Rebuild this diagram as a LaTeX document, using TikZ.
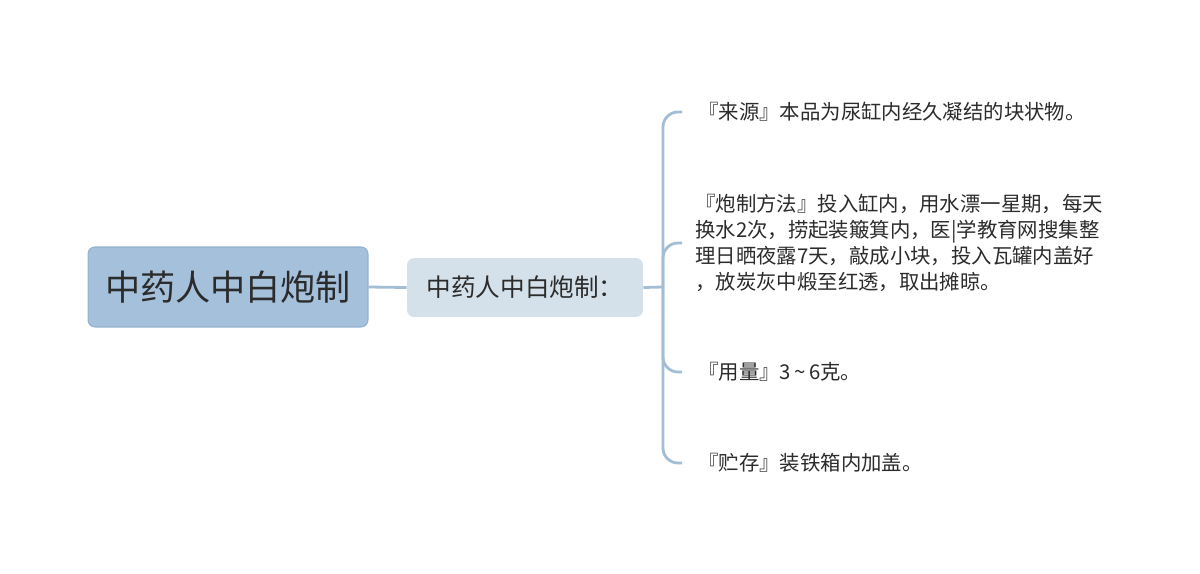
\documentclass[tikz,border=0pt]{standalone}
\usepackage{fontspec}
\setmainfont{Noto Sans CJK SC}
\usepackage{tikz}
\usetikzlibrary{positioning}
\definecolor{rootfill}{HTML}{A4C0DB}
\definecolor{rootdraw}{HTML}{93B2D0}
\definecolor{subfill}{HTML}{D5E1EA}
\definecolor{linkcol}{HTML}{A3BDD4}
\definecolor{txt}{HTML}{2B2B2B}
\tikzstyle{rootbox}=[rectangle, fill=rootfill, draw=rootdraw, line width=0.6pt, rounded corners=4pt, minimum width=5.6cm, minimum height=1.6cm, text=txt, font=\fontsize{20}{22}\selectfont]
\tikzstyle{subbox}=[rectangle, fill=subfill, rounded corners=4pt, minimum width=4.72cm, minimum height=1.18cm, text=txt, font=\fontsize{14}{16}\selectfont]
\tikzstyle{leaf}=[anchor=west, inner sep=0pt, align=left, text=txt, font=\fontsize{11.6}{14.8}\selectfont]
\tikzstyle{link}=[draw=linkcol, line width=1.6pt, rounded corners=0.3cm]

\begin{document}
\begin{tikzpicture}[x=0.02cm,y=-0.02cm]
\useasboundingbox (0,0) rectangle (1200,574);

%Main nodes
\node[rootbox] (root) at (228,287){中药人中白炮制};
\node[subbox] (sub) at (525,287.5){中药人中白炮制：};
\coordinate (br) at (663,287);

%Leaves
\node[leaf] (l1) at (698,112){『来源』本品为尿缸内经久凝结的块状物。};
\node[leaf] (l2) at (695,243){『炮制方法』投入缸内，用水漂一星期，每天\\换水2次，捞起装簸箕内，医|学教育网搜集整\\理日晒夜露7天，敲成小块，投入瓦罐内盖好\\，放炭灰中煅至红透，取出摊晾。};
\node[leaf] (l3) at (698,372){『用量』3\,{\char`\~}\,6克。};
\node[leaf] (l4) at (698,463){『贮存』装铁箱内加盖。};

%Connectors
\draw[link] (root.east) -- (sub.west);
\draw[link] (sub.east) -- (br);
\draw[link] (br) |- ([xshift=-0.32cm]l1.west);
\draw[link] (br) |- ([xshift=-0.26cm]l2.west);
\draw[link] (br) |- ([xshift=-0.32cm]l3.west);
\draw[link] (br) |- ([xshift=-0.32cm]l4.west);

\end{tikzpicture}
\end{document}
